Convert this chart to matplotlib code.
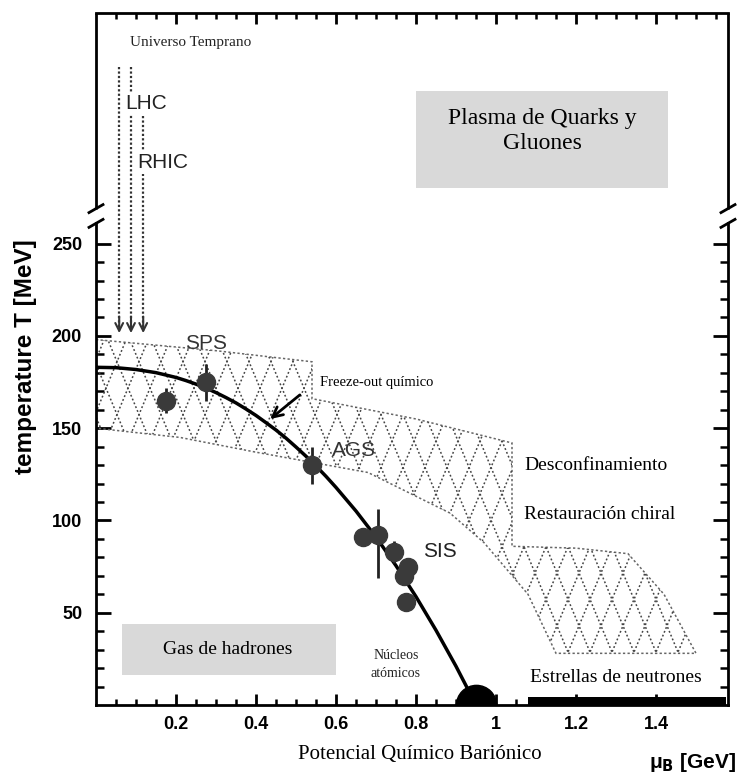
import matplotlib
matplotlib.use('Agg')
import matplotlib.pyplot as plt
import numpy as np
from matplotlib.patches import Polygon, Rectangle
from matplotlib.ticker import FixedLocator, FixedFormatter

SANS = 'Liberation Sans'
SERIF = 'Liberation Serif'

# ---------------- data ----------------
# chemical freeze-out curve (mu_B [GeV], T [MeV])
curve_mu = [0.0, 0.05, 0.10, 0.15, 0.20, 0.225, 0.25, 0.275, 0.30, 0.325, 0.35, 0.375, 0.40,
            0.425, 0.45, 0.475, 0.50, 0.525, 0.55, 0.575, 0.60, 0.65, 0.70, 0.75, 0.80,
            0.85, 0.90, 0.95]
curve_T = [183, 182.8, 181.8, 180.1, 177.5, 175.8, 173.9, 171.7, 169.3, 166.6, 163.7, 160.4, 156.9,
           153.0, 149.0, 144.6, 139.8, 134.8, 129.5, 123.9, 117.9, 105.1, 91.0, 75.5, 58.7,
           40.5, 21.0, 0]

# freeze-out data points
pt_mu = [0.175, 0.275, 0.54, 0.668, 0.705, 0.745, 0.77, 0.78, 0.775]
pt_T = [165, 175, 130, 91, 92, 83, 70, 75, 56]
pt_yerr_lo = [7, 10, 10, 0, 23, 6, 0, 0, 0]
pt_yerr_hi = [7, 10, 10, 0, 14, 6, 0, 0, 0]
pt_xerr = [0, 0, 0, 0, 0, 0.02, 0, 0, 0]

# hatched deconfinement / chiral restoration band
band_mu = [0.0, 0.30, 0.54, 0.54, 0.80, 1.04, 1.04, 1.20, 1.33, 1.42, 1.50,
           1.15, 1.08, 0.97, 0.885, 0.68, 0.40, 0.21, 0.0]
band_T = [198, 192, 186, 166, 155, 142, 86, 85, 82, 60, 28,
          28, 60, 88, 104, 126, 137, 145, 150]

# accelerator arrows (x position, top of arrow, tip)
arrow_mu = [0.058, 0.0875, 0.118]
arrow_top = [346, 346, 319]
arrow_tip = 200

# neutron stars bar and nuclear matter point
ns_mu = [1.08, 1.575]
ns_T = 4.5
nuc_mu = 0.95
nuc_T = 0

xticks = [0.2, 0.4, 0.6, 0.8, 1.0, 1.2, 1.4]
xticklabels = ['0.2', '0.4', '0.6', '0.8', '1', '1.2', '1.4']
yticks = [50, 100, 150, 200, 250]
yticklabels = ['50', '100', '150', '200', '250']

# ---------------- figure ----------------
fig = plt.figure(figsize=(7.38, 7.78), dpi=100)
ax = fig.add_axes([96 / 738, 73 / 778, 632 / 738, 692 / 778])
XMAX, YMAX = 1.58, 375
ax.set_xlim(0, XMAX)
ax.set_ylim(0, YMAX)
pxx = XMAX / 632.0
pxy = YMAX / 692.0

for s in ax.spines.values():
    s.set_linewidth(2)
T_lo, T_hi = 261, 269
ax.spines['left'].set_bounds(0, T_lo)
ax.spines['right'].set_bounds(0, T_lo)
for x0 in (0, XMAX):
    ax.plot([x0, x0], [T_hi, YMAX], color='k', lw=2, clip_on=False, solid_capstyle='butt', zorder=6)
    for Tb in (T_lo, T_hi):
        ax.plot([x0 - 7 * pxx, x0 + 7 * pxx], [Tb - 4 * pxy, Tb + 4 * pxy], color='k', lw=2,
                clip_on=False, zorder=6)

# ticks
ax.xaxis.set_major_locator(FixedLocator(xticks))
ax.xaxis.set_major_formatter(FixedFormatter(xticklabels))
ax.xaxis.set_minor_locator(FixedLocator(np.arange(0.05, 1.58, 0.05)))
ax.yaxis.set_major_locator(FixedLocator(yticks))
ax.yaxis.set_major_formatter(FixedFormatter(yticklabels))
ax.yaxis.set_minor_locator(FixedLocator(np.arange(10, 251, 10)))
ax.tick_params(axis='x', which='major', direction='in', length=8, width=2, top=True, pad=8)
ax.tick_params(axis='x', which='minor', direction='in', length=4, width=1.8, top=True)
ax.tick_params(axis='y', which='major', direction='in', length=11, width=2, right=True, pad=10)
ax.tick_params(axis='y', which='minor', direction='in', length=5.5, width=1.8, right=True)
for lbl in ax.get_xticklabels() + ax.get_yticklabels():
    lbl.set_fontfamily(SANS)
    lbl.set_fontweight('bold')
    lbl.set_fontsize(13)

# hatched band
band = Polygon(np.column_stack([band_mu, band_T]), closed=True, facecolor='none',
               edgecolor='#666666', lw=1.1, linestyle=(0, (1.5, 1.5)), zorder=2)
ax.add_patch(band)
slope = 1.845 / 2.4 * 0.0025  # dx per MeV for the diamond hatch
period = 22 * 0.0025
for xk in np.arange(-0.8, 2.4, period):
    for sgn in (1, -1):
        ln, = ax.plot([xk, xk + sgn * slope * 260], [0, 260], color='#444444', lw=1.1,
                      linestyle=(0, (1.2, 1.5)), zorder=2)
        ln.set_clip_path(band)

# shaded boxes
ax.add_patch(Rectangle((0.80, 280), 0.63, 53, facecolor='#d9d9d9', edgecolor='none', zorder=1))
ax.text(1.115, 311, 'Plasma de Quarks y\nGluones', family=SERIF, fontsize=17, ha='center',
        va='center', linespacing=1.25, zorder=3)
ax.add_patch(Rectangle((0.065, 16), 0.535, 28, facecolor='#d9d9d9', edgecolor='none', zorder=1))
ax.text(0.33, 30, 'Gas de hadrones', family=SERIF, fontsize=14, ha='center', va='center', zorder=3)

# freeze-out curve
ax.plot(curve_mu, curve_T, color='k', lw=2.5, zorder=4, solid_joinstyle='round')

# data points
ax.errorbar(pt_mu, pt_T, yerr=[pt_yerr_lo, pt_yerr_hi], xerr=pt_xerr, fmt='o', ms=13,
            color='#3a3a3a', ecolor='#222222', elinewidth=2, capsize=0, zorder=5)

# nuclear matter and neutron stars
ax.plot([nuc_mu], [nuc_T], 'o', ms=29, color='k', zorder=5)
ax.bar(ns_mu[0], ns_T, width=ns_mu[1] - ns_mu[0], align='edge', color='k', zorder=5)

# accelerator arrows
for xm, top in zip(arrow_mu, arrow_top):
    ax.plot([xm, xm], [top, arrow_tip + 4], color='#333333', lw=1.6, linestyle=(0, (1, 1)),
            clip_on=False, zorder=2)
    ax.annotate('', xy=(xm, arrow_tip), xytext=(xm, arrow_tip + 12), annotation_clip=False,
                arrowprops=dict(arrowstyle='->', color='#333333', lw=1.5, mutation_scale=14),
                zorder=2)
wb = dict(facecolor='white', edgecolor='none', pad=1.5)
ax.text(0.085, 359, 'Universo Temprano', family=SERIF, fontsize=11, ha='left', va='center',
        color='#222222', zorder=3)
ax.text(0.0725, 326, 'LHC', family=SANS, fontsize=15, ha='left', va='center', color='#222222',
        bbox=wb, zorder=3)
ax.text(0.1025, 294, 'RHIC', family=SANS, fontsize=15, ha='left', va='center', color='#222222',
        bbox=wb, zorder=3)

# labels in plot
ax.text(0.275, 196, 'SPS', family=SANS, fontsize=15, ha='center', va='center', color='#333333', zorder=6)
ax.text(0.645, 138, 'AGS', family=SANS, fontsize=15, ha='center', va='center', color='#333333', zorder=6)
ax.text(0.86, 83, 'SIS', family=SANS, fontsize=15, ha='center', va='center', color='#222222', zorder=6)
ax.text(0.56, 175, 'Freeze-out químico', family=SERIF, fontsize=10.5, ha='left', va='center', zorder=6)
ax.annotate('', xy=(0.43, 154), xytext=(0.515, 169),
            arrowprops=dict(arrowstyle='->', color='k', lw=2, mutation_scale=18), zorder=6)
ax.text(1.07, 130, 'Desconfinamiento', family=SERIF, fontsize=14, ha='left', va='center', zorder=6)
ax.text(1.07, 103, 'Restauración chiral', family=SERIF, fontsize=14, ha='left', va='center', zorder=6)
ax.text(1.30, 15, 'Estrellas de neutrones', family=SERIF, fontsize=14, ha='center', va='center', zorder=6)
ax.text(0.75, 22, 'Núcleos\natómicos', family=SERIF, fontsize=10, ha='center', va='center',
        linespacing=1.5, color='#222222', zorder=6)

# axis labels
fig.text(26 / 738, 1 - 357 / 778, 'temperature T [MeV]', family=SANS, fontweight='bold',
         fontsize=17.5, rotation=90, ha='center', va='center')
fig.text(420 / 738, 1 - 755 / 778, 'Potencial Químico Bariónico', family=SERIF, fontsize=15,
         ha='center', va='center')
fig.text(736 / 738, 1 - 762 / 778, r'μ$_\mathbf{B}$ [GeV]', family=SANS, fontweight='bold',
         fontsize=15, ha='right', va='center')

fig.savefig('out.png', dpi=100)
